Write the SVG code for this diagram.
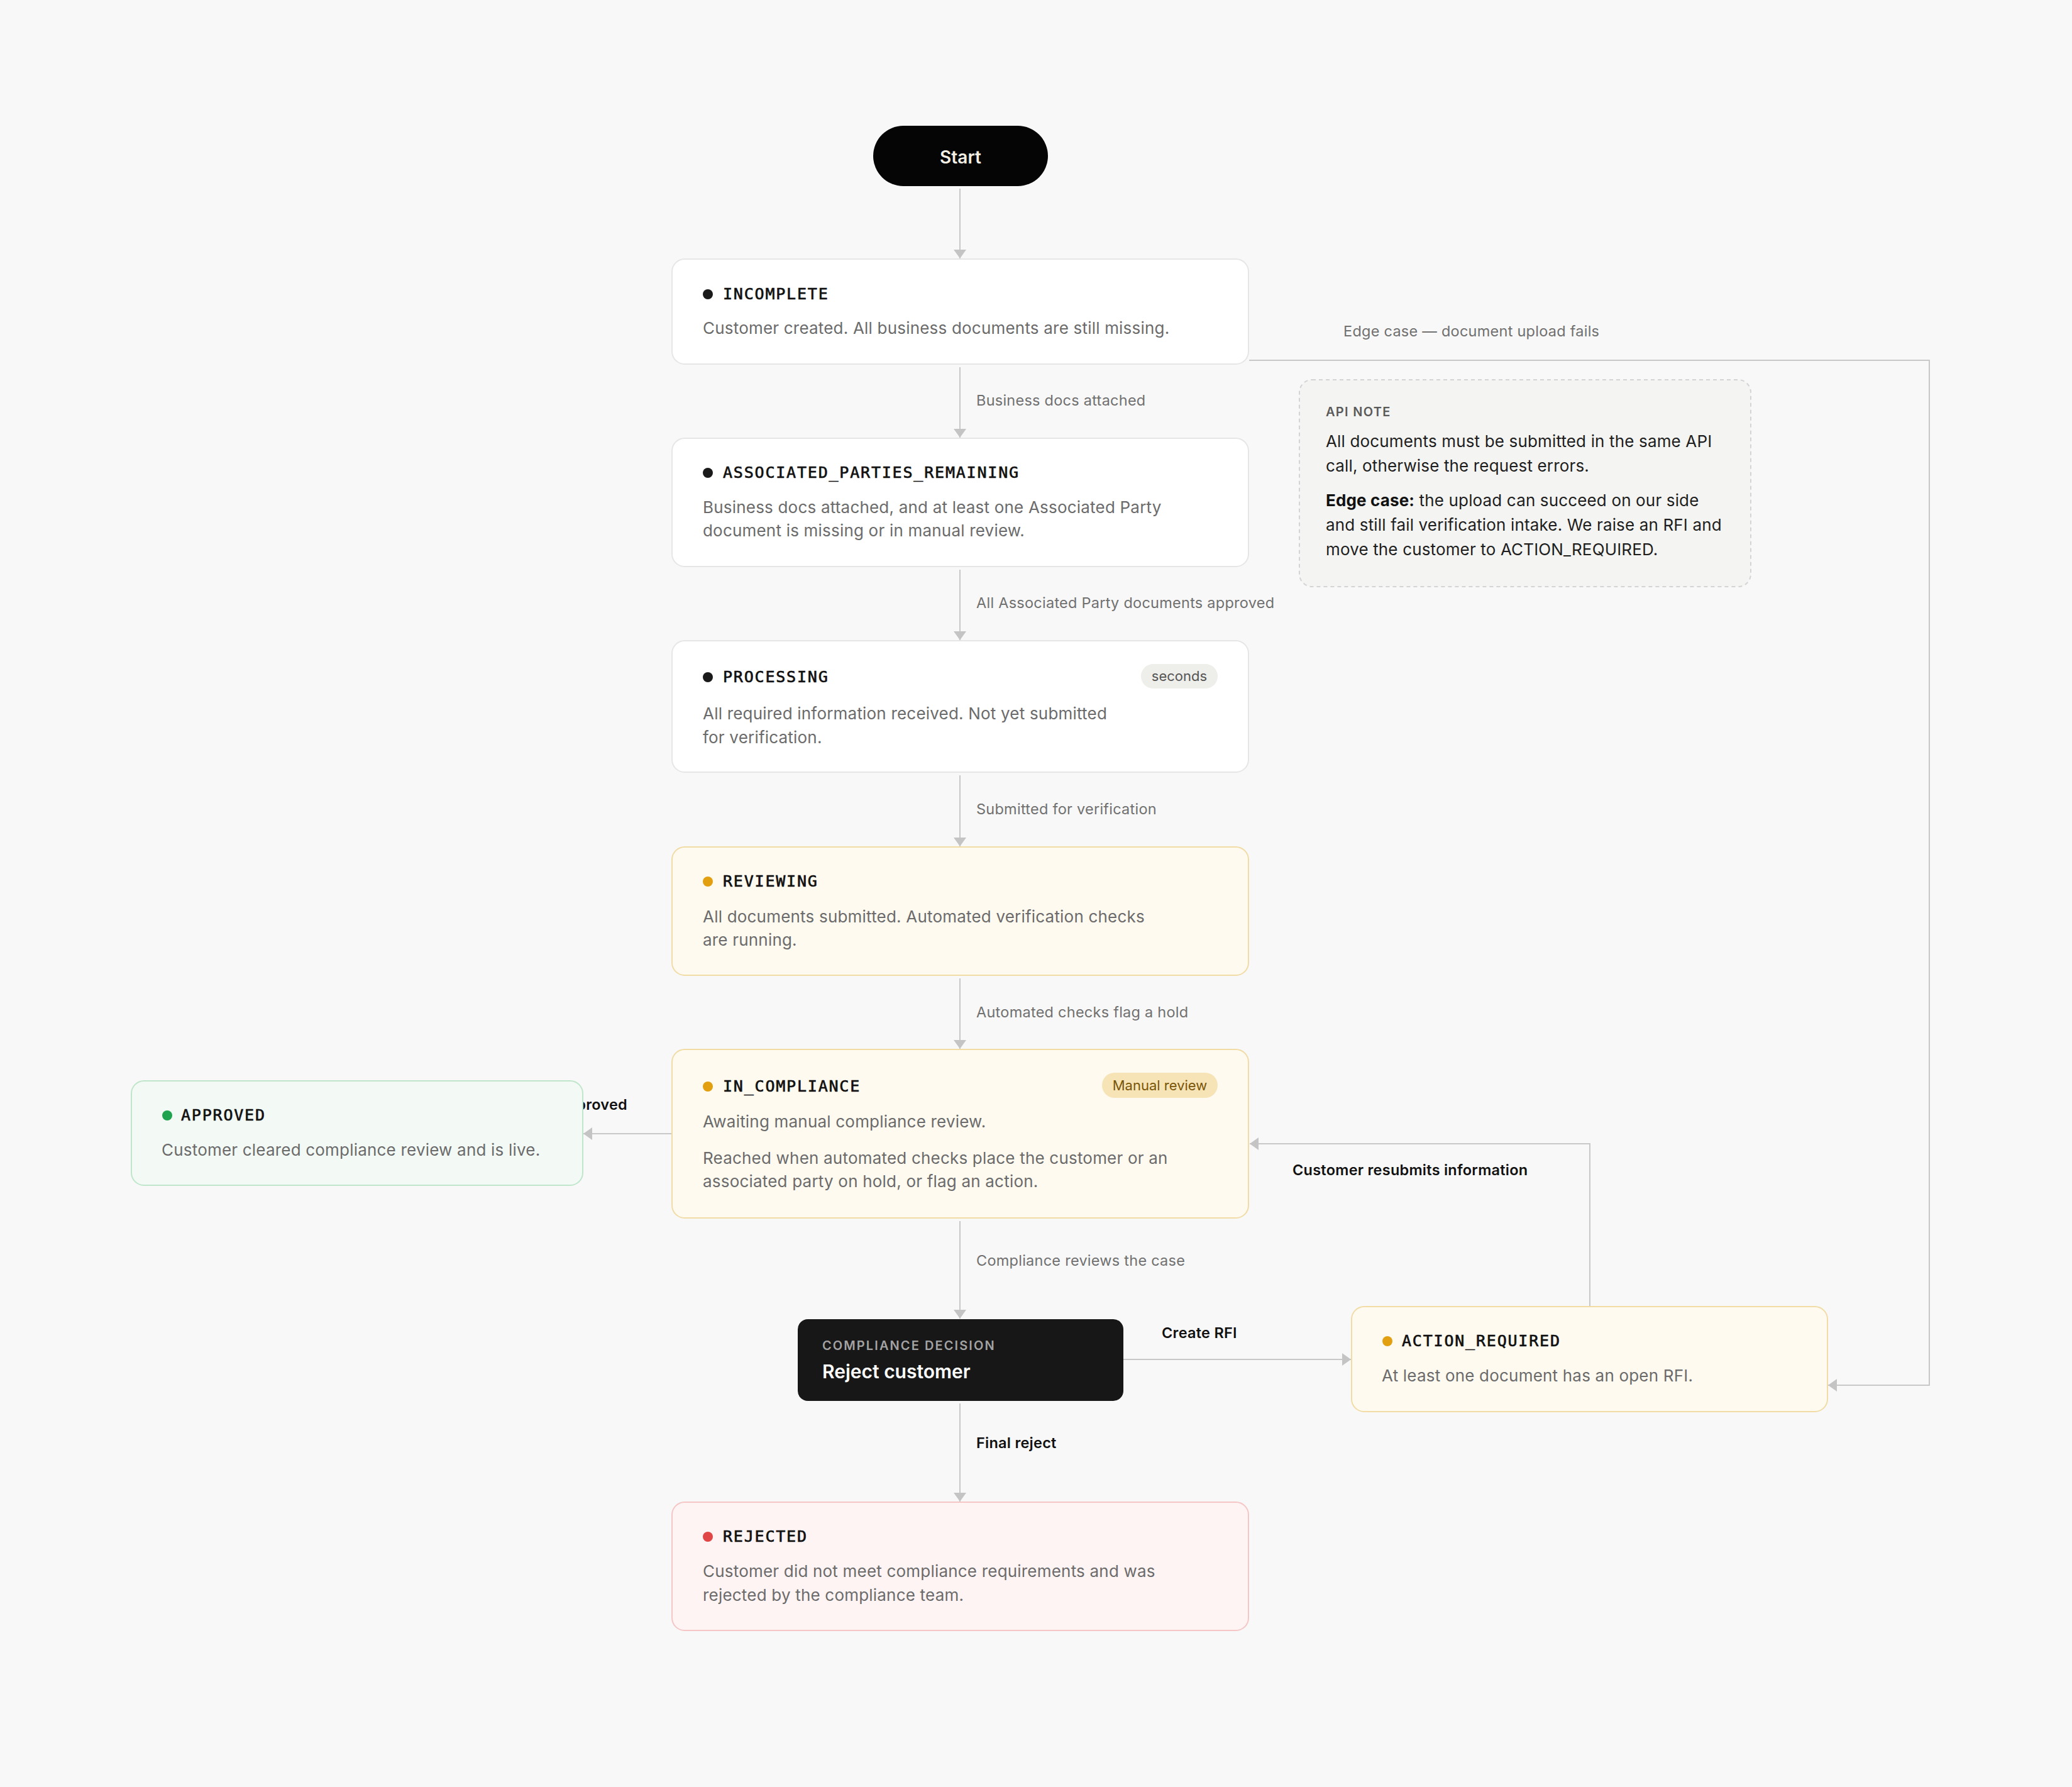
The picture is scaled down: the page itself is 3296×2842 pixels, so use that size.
<svg xmlns="http://www.w3.org/2000/svg" width="3296" height="2842" viewBox="0 0 3296 2842">
<defs>
<marker id="ah" viewBox="0 0 14 20" refX="14" refY="10" markerWidth="14" markerHeight="20" markerUnits="userSpaceOnUse" orient="auto">
<path d="M0,0 L14,10 L0,20 Z" fill="#c4c4c4"/>
</marker>
<style>
.bg{fill:#f8f8f8}
.edge{fill:none;stroke:#c8c8c8;stroke-width:2}
.lbl{font-family:Inter,"Liberation Sans",sans-serif;font-size:23.5px;letter-spacing:0.25px;fill:#707070}
.lblb{font-family:Inter,"Liberation Sans",sans-serif;font-size:23.5px;letter-spacing:0.25px;font-weight:600;fill:#111}
.box{stroke-width:2}
.neutral{fill:#ffffff;stroke:#e6e6e6}
.amber{fill:#fffaf0;stroke:#f1dca6}
.green{fill:#f3faf5;stroke:#bfe6cb}
.red{fill:#fff4f4;stroke:#f5c6c6}
.title{font-family:"DejaVu Sans Mono","Liberation Mono",monospace;font-size:25px;letter-spacing:1.8px;fill:#111;stroke:#111;stroke-width:0.7px}
.desc{font-family:Inter,"Liberation Sans",sans-serif;font-size:26px;letter-spacing:0.2px;fill:#6b6b6b}
.badge{font-family:Inter,"Liberation Sans",sans-serif;font-size:22px;text-anchor:middle}
.note{font-family:Inter,"Liberation Sans",sans-serif;font-size:26px;letter-spacing:0.15px;fill:#1e1e1e}
</style>
</defs>
<rect class="bg" x="0" y="0" width="3296" height="2842"/>

<g id="connectors">
<line class="edge" x1="1527" y1="300" x2="1527" y2="411" marker-end="url(#ah)"/>
<line class="edge" x1="1527" y1="584" x2="1527" y2="696" marker-end="url(#ah)"/>
<text class="lbl" x="1553" y="645">Business docs attached</text>
<line class="edge" x1="1527" y1="906" x2="1527" y2="1018" marker-end="url(#ah)"/>
<text class="lbl" x="1553" y="967">All Associated Party documents approved</text>
<line class="edge" x1="1527" y1="1233" x2="1527" y2="1346" marker-end="url(#ah)"/>
<text class="lbl" x="1553" y="1295">Submitted for verification</text>
<line class="edge" x1="1527" y1="1556" x2="1527" y2="1668" marker-end="url(#ah)"/>
<text class="lbl" x="1553" y="1618">Automated checks flag a hold</text>
<line class="edge" x1="1527" y1="1942" x2="1527" y2="2097" marker-end="url(#ah)"/>
<text class="lbl" x="1553" y="2013">Compliance reviews the case</text>
<line class="edge" x1="1527" y1="2232" x2="1527" y2="2388" marker-end="url(#ah)"/>
<text class="lblb" x="1553" y="2303">Final reject</text>
<line class="edge" x1="1787" y1="2162" x2="2149" y2="2162" marker-end="url(#ah)"/>
<text class="lblb" x="1848" y="2128">Create RFI</text>
<path class="edge" d="M2529,2078 V1819 H1988" marker-end="url(#ah)"/>
<text class="lblb" x="2056" y="1869">Customer resubmits information</text>
<path class="edge" d="M1068,1803 H928" marker-end="url(#ah)"/>
<text class="lblb" x="998" y="1765" text-anchor="end">Approved</text>
<path class="edge" d="M1987,573 H3069 V2203 H2908" marker-end="url(#ah)"/>
<text class="lbl" x="2137" y="535">Edge case — document upload fails</text>
</g>

<g id="start">
<rect x="1389" y="200" width="278" height="96" rx="48" fill="#050505"/>
<text x="1528" y="260" text-anchor="middle" font-family="Inter,'Liberation Sans',sans-serif" font-size="28" font-weight="600" fill="#f4efe4">Start</text>
</g>

<g id="incomplete">
<rect class="box neutral" x="1069" y="412" width="917" height="167" rx="20"/>
<circle cx="1126" cy="468" r="8" fill="#1a1a1a"/>
<text class="title" x="1150" y="476">INCOMPLETE</text>
<text class="desc" x="1118" y="531">Customer created. All business documents are still missing.</text>
</g>

<g id="associated-parties-remaining">
<rect class="box neutral" x="1069" y="697" width="917" height="204" rx="20"/>
<circle cx="1126" cy="752" r="8" fill="#1a1a1a"/>
<text class="title" x="1150" y="760">ASSOCIATED_PARTIES_REMAINING</text>
<text class="desc" x="1118" y="816">Business docs attached, and at least one Associated Party</text>
<text class="desc" x="1118" y="853">document is missing or in manual review.</text>
</g>

<g id="processing">
<rect class="box neutral" x="1069" y="1019" width="917" height="209" rx="20"/>
<circle cx="1126" cy="1077" r="8" fill="#1a1a1a"/>
<text class="title" x="1150" y="1085">PROCESSING</text>
<rect x="1815" y="1056" width="122" height="39" rx="19.5" fill="#eeeeea"/>
<text class="badge" x="1876" y="1083" fill="#555555">seconds</text>
<text class="desc" x="1118" y="1144">All required information received. Not yet submitted</text>
<text class="desc" x="1118" y="1182">for verification.</text>
</g>

<g id="reviewing">
<rect class="box amber" x="1069" y="1347" width="917" height="204" rx="20"/>
<circle cx="1126" cy="1402" r="8" fill="#e2a010"/>
<text class="title" x="1150" y="1410">REVIEWING</text>
<text class="desc" x="1118" y="1467">All documents submitted. Automated verification checks</text>
<text class="desc" x="1118" y="1504">are running.</text>
</g>

<g id="in-compliance">
<rect class="box amber" x="1069" y="1669" width="917" height="268" rx="20"/>
<circle cx="1126" cy="1728" r="8" fill="#e2a010"/>
<text class="title" x="1150" y="1736">IN_COMPLIANCE</text>
<rect x="1753" y="1706" width="184" height="40" rx="20" fill="#f6e4b6"/>
<text class="badge" x="1845" y="1734" fill="#7a5608">Manual review</text>
<text class="desc" x="1118" y="1793">Awaiting manual compliance review.</text>
<text class="desc" x="1118" y="1851">Reached when automated checks place the customer or an</text>
<text class="desc" x="1118" y="1888">associated party on hold, or flag an action.</text>
</g>

<g id="approved">
<rect class="box green" x="209" y="1719" width="718" height="166" rx="20"/>
<circle cx="266" cy="1774" r="8" fill="#1fa34f"/>
<text class="title" x="288" y="1782">APPROVED</text>
<text class="desc" x="257" y="1838">Customer cleared compliance review and is live.</text>
</g>

<g id="compliance-decision">
<rect x="1269" y="2098" width="518" height="130" rx="16" fill="#171717"/>
<text x="1308" y="2147" font-family="Inter,'Liberation Sans',sans-serif" font-size="20" font-weight="600" letter-spacing="2.1" fill="#a3a3a3">COMPLIANCE DECISION</text>
<text x="1308" y="2192" font-family="Inter,'Liberation Sans',sans-serif" font-size="30" font-weight="600" fill="#ffffff">Reject customer</text>
</g>

<g id="action-required">
<rect class="box amber" x="2150" y="2078" width="757" height="167" rx="20"/>
<circle cx="2207" cy="2133" r="8" fill="#e2a010"/>
<text class="title" x="2230" y="2141">ACTION_REQUIRED</text>
<text class="desc" x="2198" y="2197">At least one document has an open RFI.</text>
</g>

<g id="rejected">
<rect class="box red" x="1069" y="2389" width="917" height="204" rx="20"/>
<circle cx="1126" cy="2444" r="8" fill="#e04646"/>
<text class="title" x="1150" y="2452">REJECTED</text>
<text class="desc" x="1118" y="2508">Customer did not meet compliance requirements and was</text>
<text class="desc" x="1118" y="2546">rejected by the compliance team.</text>
</g>

<g id="api-note">
<rect x="2067" y="604" width="718" height="329" rx="20" fill="#f4f4f2" stroke="#d4d4d4" stroke-width="2" stroke-dasharray="6 5"/>
<text x="2109" y="662" font-family="Inter,'Liberation Sans',sans-serif" font-size="20" font-weight="600" letter-spacing="1.3" fill="#5a5a5a">API NOTE</text>
<text class="note" x="2109" y="711">All documents must be submitted in the same API</text>
<text class="note" x="2109" y="750">call, otherwise the request errors.</text>
<text class="note" x="2109" y="805"><tspan font-weight="700" fill="#111">Edge case:</tspan> the upload can succeed on our side</text>
<text class="note" x="2109" y="844">and still fail verification intake. We raise an RFI and</text>
<text class="note" x="2109" y="883">move the customer to ACTION_REQUIRED.</text>
</g>
</svg>
